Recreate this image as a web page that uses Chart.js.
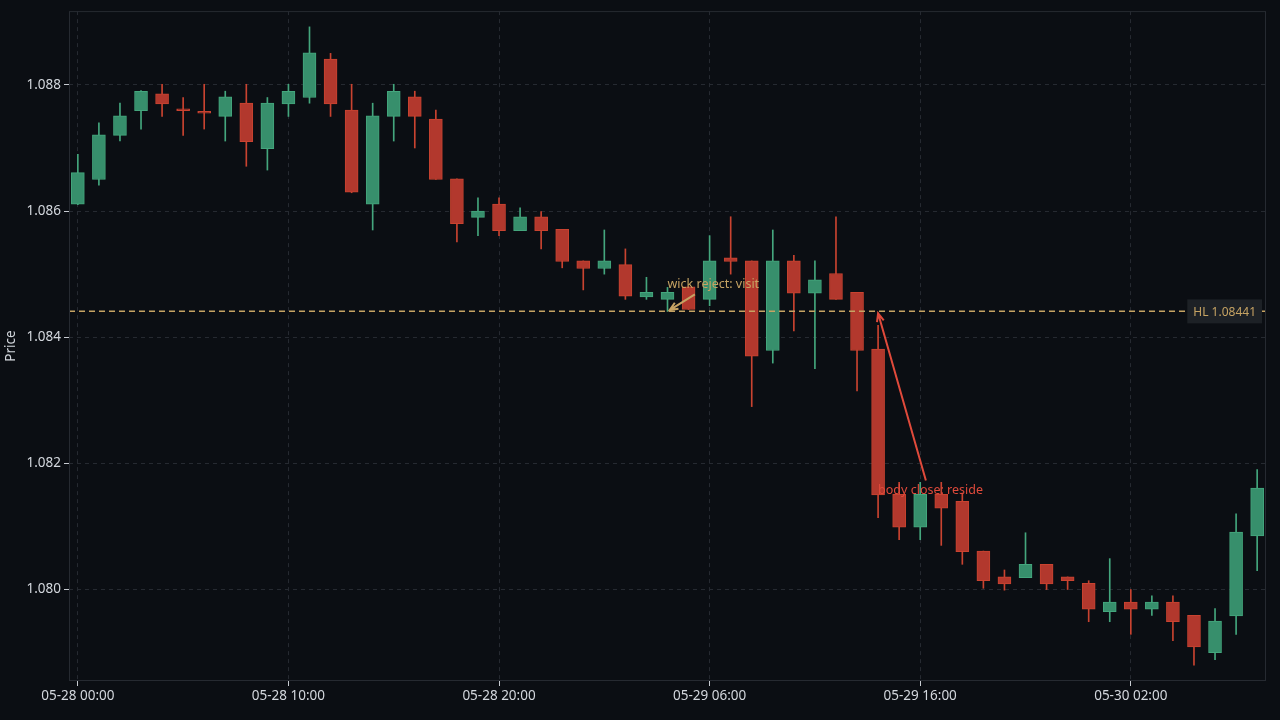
<!DOCTYPE html>
<html>
<head>
<meta charset="utf-8">
<script src="https://cdn.jsdelivr.net/npm/chart.js@4.4.1/dist/chart.umd.min.js"></script>
<style>
  html, body { margin: 0; padding: 0; background: #0b0e13; }
</style>
</head>
<body>
<canvas id="candles" width="1280" height="720"></canvas>
<script>
// hourly candles, 05-28 00:00 .. 05-30 08:00
const times = [
  '05-28 00:00','05-28 01:00','05-28 02:00','05-28 03:00','05-28 04:00','05-28 05:00','05-28 06:00','05-28 07:00',
  '05-28 08:00','05-28 09:00','05-28 10:00','05-28 11:00','05-28 12:00','05-28 13:00','05-28 14:00','05-28 15:00',
  '05-28 16:00','05-28 17:00','05-28 18:00','05-28 19:00','05-28 20:00','05-28 21:00','05-28 22:00','05-28 23:00',
  '05-29 00:00','05-29 01:00','05-29 02:00','05-29 03:00','05-29 04:00','05-29 05:00','05-29 06:00','05-29 07:00',
  '05-29 08:00','05-29 09:00','05-29 10:00','05-29 11:00','05-29 12:00','05-29 13:00','05-29 14:00','05-29 15:00',
  '05-29 16:00','05-29 17:00','05-29 18:00','05-29 19:00','05-29 20:00','05-29 21:00','05-29 22:00','05-29 23:00',
  '05-30 00:00','05-30 01:00','05-30 02:00','05-30 03:00','05-30 04:00','05-30 05:00','05-30 06:00','05-30 07:00',
  '05-30 08:00'
];
const opens = [
  1.08611, 1.08650, 1.08720, 1.08759, 1.08786, 1.08760, 1.08756, 1.08750, 1.08771, 1.08699,
  1.08770, 1.08780, 1.08841, 1.08760, 1.08611, 1.08750, 1.08781, 1.08746, 1.08651, 1.08590,
  1.08611, 1.08569, 1.08591, 1.08571, 1.08521, 1.08509, 1.08515, 1.08464, 1.08460, 1.08480,
  1.08460, 1.08526, 1.08521, 1.08379, 1.08521, 1.08470, 1.08501, 1.08471, 1.08381, 1.08151,
  1.08099, 1.08151, 1.08140, 1.08061, 1.08020, 1.08019, 1.08040, 1.08020, 1.08010, 1.07965,
  1.07980, 1.07969, 1.07980, 1.07959, 1.07900, 1.07958, 1.08085
];
const highs = [
  1.08690, 1.08740, 1.08771, 1.08791, 1.08801, 1.08780, 1.08801, 1.08790, 1.08801, 1.08780,
  1.08801, 1.08892, 1.08850, 1.08801, 1.08771, 1.08801, 1.08790, 1.08760, 1.08651, 1.08621,
  1.08621, 1.08605, 1.08599, 1.08571, 1.08521, 1.08570, 1.08540, 1.08495, 1.08479, 1.08480,
  1.08561, 1.08591, 1.08521, 1.08570, 1.08530, 1.08521, 1.08591, 1.08471, 1.08419, 1.08170,
  1.08170, 1.08170, 1.08153, 1.08061, 1.08031, 1.08090, 1.08040, 1.08020, 1.08014, 1.08049,
  1.08000, 1.07990, 1.07990, 1.07959, 1.07970, 1.08120, 1.08190
];
const lows = [
  1.08610, 1.08641, 1.08711, 1.08730, 1.08750, 1.08720, 1.08730, 1.08711, 1.08671, 1.08665,
  1.08750, 1.08771, 1.08750, 1.08629, 1.08570, 1.08711, 1.08700, 1.08650, 1.08551, 1.08561,
  1.08561, 1.08569, 1.08540, 1.08510, 1.08475, 1.08500, 1.08460, 1.08460, 1.08441, 1.08444,
  1.08450, 1.08500, 1.08290, 1.08359, 1.08410, 1.08350, 1.08460, 1.08315, 1.08114, 1.08079,
  1.08079, 1.08070, 1.08040, 1.08002, 1.07999, 1.08019, 1.08000, 1.08000, 1.07949, 1.07949,
  1.07929, 1.07959, 1.07919, 1.07880, 1.07889, 1.07929, 1.08030
];
const closes = [
  1.08661, 1.08721, 1.08751, 1.08790, 1.08770, 1.08759, 1.08755, 1.08781, 1.08710, 1.08771,
  1.08790, 1.08851, 1.08770, 1.08630, 1.08751, 1.08790, 1.08750, 1.08650, 1.08580, 1.08600,
  1.08569, 1.08591, 1.08569, 1.08520, 1.08509, 1.08521, 1.08465, 1.08471, 1.08471, 1.08444,
  1.08521, 1.08520, 1.08370, 1.08521, 1.08470, 1.08491, 1.08460, 1.08379, 1.08150, 1.08099,
  1.08151, 1.08129, 1.08060, 1.08014, 1.08009, 1.08040, 1.08009, 1.08014, 1.07969, 1.07980,
  1.07969, 1.07980, 1.07949, 1.07909, 1.07950, 1.08091, 1.08161
];
const hlLevel = 1.08441;
const yTicks = [1.080, 1.082, 1.084, 1.086, 1.088];
const xTicks = [0, 10, 20, 30, 40, 50];
const notes = [
  { text: 'wick reject: visit', color: '#c6a363', textAt: [28, 1.08483], from: [29.3, 1.08468], to: [28.1, 1.08443] },
  { text: 'body close: reside', color: '#e04a3b', textAt: [38, 1.08157], from: [40.27, 1.08173], to: [38.0, 1.08438] }
];

const bg = '#0b0e13';
const up = '#378f6c', upEdge = '#44a67d';
const down = '#b2382d', downEdge = '#c94330';
const xMin = -0.42, xMax = times.length - 1 + 0.42;

const isUp = opens.map((o, i) => closes[i] >= o);

const overlay = {
  id: 'overlay',
  beforeDraw(chart) {
    const c = chart.ctx;
    c.save();
    c.fillStyle = bg;
    c.fillRect(0, 0, chart.width, chart.height);
    c.restore();
  },
  afterDatasetsDraw(chart) {
    const { ctx, chartArea: a, scales: { x, y } } = chart;
    ctx.save();
    ctx.strokeStyle = '#262a31';
    ctx.lineWidth = 1;
    ctx.strokeRect(a.left + 0.5, a.top + 0.5, a.width - 1, a.height - 1);

    ctx.font = '12.5px "Noto Sans", sans-serif';
    ctx.textBaseline = 'middle';
    notes.forEach(n => {
      const x1 = x.getPixelForValue(n.from[0]), y1 = y.getPixelForValue(n.from[1]);
      const x2 = x.getPixelForValue(n.to[0]), y2 = y.getPixelForValue(n.to[1]);
      ctx.strokeStyle = n.color;
      ctx.lineWidth = 2;
      ctx.beginPath();
      ctx.moveTo(x1, y1);
      ctx.lineTo(x2, y2);
      const ang = Math.atan2(y2 - y1, x2 - x1);
      const len = 9;
      ctx.moveTo(x2 - len * Math.cos(ang - 0.4), y2 - len * Math.sin(ang - 0.4));
      ctx.lineTo(x2, y2);
      ctx.lineTo(x2 - len * Math.cos(ang + 0.4), y2 - len * Math.sin(ang + 0.4));
      ctx.stroke();
      ctx.fillStyle = n.color;
      ctx.textAlign = 'left';
      ctx.fillText(n.text, x.getPixelForValue(n.textAt[0]), y.getPixelForValue(n.textAt[1]));
    });

    // level tag on the right edge
    const label = 'HL ' + hlLevel.toFixed(5);
    ctx.font = '12px "Noto Sans", sans-serif';
    const w = ctx.measureText(label).width + 12;
    const ly = y.getPixelForValue(hlLevel);
    ctx.fillStyle = '#1d2126';
    ctx.fillRect(a.right - 4 - w, ly - 12, w, 24);
    ctx.fillStyle = '#c6a363';
    ctx.textAlign = 'center';
    ctx.fillText(label, a.right - 4 - w / 2, ly + 1);
    ctx.restore();
  }
};

Chart.defaults.font.family = '"Noto Sans", sans-serif';
Chart.defaults.font.size = 13.5;
Chart.defaults.color = '#d3d7dd';

new Chart(document.getElementById('candles'), {
  type: 'bar',
  data: {
    datasets: [
      {
        type: 'line',
        data: [{ x: xMin, y: hlLevel }, { x: xMax, y: hlLevel }],
        borderColor: '#c6a363',
        borderWidth: 1.5,
        borderDash: [6, 4],
        pointRadius: 0,
        order: 0
      },
      {
        data: times.map((t, i) => ({ x: i, y: [opens[i], closes[i]] })),
        backgroundColor: isUp.map(u => u ? up : down),
        borderColor: isUp.map(u => u ? upEdge : downEdge),
        borderWidth: 1,
        borderSkipped: false,
        barThickness: 13,
        minBarLength: 2,
        grouped: false,
        order: 1
      },
      {
        data: times.map((t, i) => ({ x: i, y: [lows[i], highs[i]] })),
        backgroundColor: isUp.map(u => u ? upEdge : downEdge),
        borderWidth: 0,
        barThickness: 1,
        grouped: false,
        order: 2
      }
    ]
  },
  options: {
    responsive: false,
    animation: false,
    devicePixelRatio: 1,
    layout: { padding: { top: 10, right: 14, left: 0, bottom: 0 } },
    plugins: { legend: { display: false }, tooltip: { enabled: false } },
    scales: {
      x: {
        type: 'linear',
        min: xMin,
        max: xMax,
        offset: false,
        afterFit: s => { s.height = 39; },
        afterBuildTicks: s => { s.ticks = xTicks.map(v => ({ value: v })); },
        ticks: {
          callback: v => times[v],
          maxRotation: 0,
          padding: 2
        },
        grid: {
          offset: false,
          color: '#262a31',
          tickColor: '#c8ccd2',
          tickBorderDash: [],
          tickLength: 5
        },
        border: { display: false, dash: [4, 4] }
      },
      y: {
        min: 1.07855,
        max: 1.08917,
        afterFit: s => { s.width = 69; },
        afterBuildTicks: s => { s.ticks = yTicks.map(v => ({ value: v })); },
        ticks: {
          callback: v => v.toFixed(3),
          padding: 3
        },
        grid: {
          color: '#262a31',
          tickColor: '#c8ccd2',
          tickBorderDash: [],
          tickLength: 5
        },
        border: { display: false, dash: [4, 4] },
        title: { display: true, text: 'Price', padding: { top: 3, bottom: 0 } }
      }
    }
  },
  plugins: [overlay]
});
</script>
</body>
</html>
